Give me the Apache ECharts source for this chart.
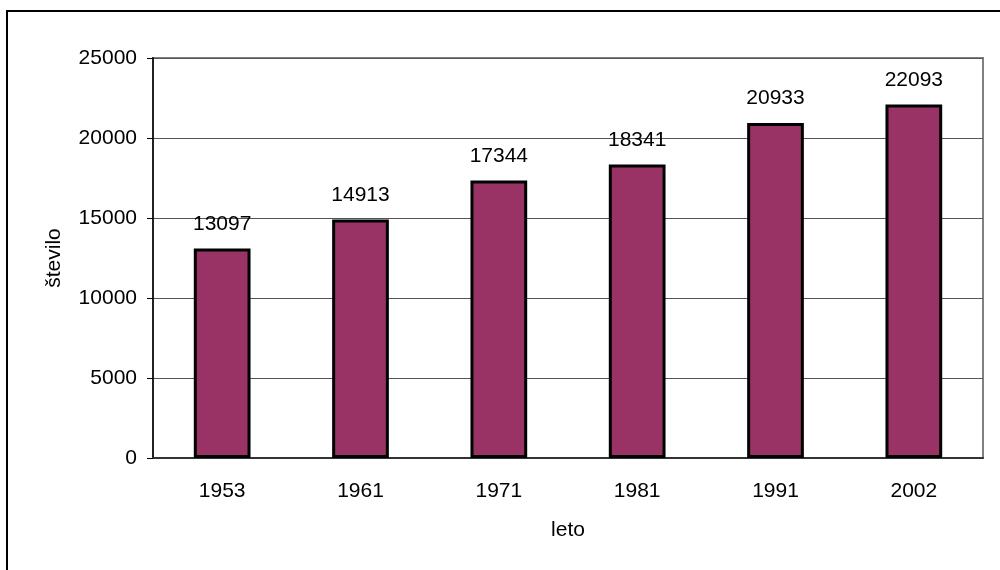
<!DOCTYPE html>
<html>
<head>
<meta charset="utf-8">
<script src="https://cdn.jsdelivr.net/npm/echarts@6/dist/echarts.min.js"></script>
<style>
  html, body { margin: 0; padding: 0; background: #fff; }
  #chart { width: 1000px; height: 570px; }
</style>
</head>
<body>
<div id="chart"></div>
<script>
// podatki
const years = ["1953", "1961", "1971", "1981", "1991", "2002"];
const counts = [13097, 14913, 17344, 18341, 20933, 22093];
const yMax = 25000;
const yStep = 5000;

const font = "'Liberation Sans', Arial, sans-serif";
const fs = 21;
const chart = echarts.init(document.getElementById("chart"));

chart.setOption({
  animation: false,
  backgroundColor: "#fff",
  textStyle: { fontFamily: font },
  graphic: [
    {
      type: "rect",
      shape: { x: 7, y: 11, width: 1100, height: 700 },
      style: { fill: "none", stroke: "#000", lineWidth: 2 },
      silent: true
    }
  ],
  grid: {
    left: 153,
    top: 58,
    right: 17,
    bottom: 112,
    show: true,
    borderColor: "#808080",
    borderWidth: 2
  },
  xAxis: {
    type: "category",
    data: years,
    name: "leto",
    nameLocation: "middle",
    nameGap: 62,
    nameTextStyle: { color: "#000", fontSize: fs, fontFamily: font },
    axisLine: { lineStyle: { color: "#333", width: 2 } },
    axisTick: { length: 6, lineStyle: { color: "#000" } },
    axisLabel: { color: "#000", fontSize: fs, margin: 23, fontFamily: font }
  },
  yAxis: {
    type: "value",
    min: 0,
    max: yMax,
    interval: yStep,
    name: "število",
    nameLocation: "middle",
    nameGap: 88,
    nameRotate: 90,
    nameTextStyle: { color: "#000", fontSize: fs, fontFamily: font },
    axisLine: { show: true, lineStyle: { color: "#222", width: 2 } },
    axisTick: { show: true, length: 6, lineStyle: { color: "#000" } },
    axisLabel: {
      color: "#000",
      fontSize: fs,
      margin: 16,
      fontFamily: font,
      formatter: (v) => String(v)
    },
    splitLine: { lineStyle: { color: "#555", width: 1 } }
  },
  series: [
    {
      type: "bar",
      data: counts,
      barWidth: "41%",
      itemStyle: {
        color: "#993366",
        borderColor: "#000",
        borderWidth: 3
      },
      label: {
        show: true,
        position: "top",
        distance: 14,
        color: "#000",
        fontSize: fs,
        fontFamily: font
      }
    }
  ]
});
</script>
</body>
</html>
